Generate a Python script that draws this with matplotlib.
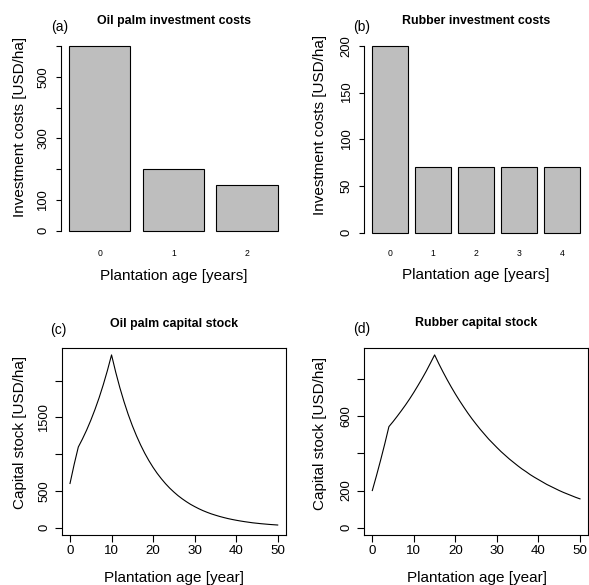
import matplotlib
matplotlib.use("Agg")
import matplotlib.pyplot as plt

plt.rcParams["font.family"] = ["Liberation Sans", "DejaVu Sans"]

# ---- investment costs by plantation age ----
oil_palm_age = [0, 1, 2]
oil_palm_cost = [600, 200, 150]
rubber_age = [0, 1, 2, 3, 4]
rubber_cost = [200, 70, 70, 70, 70]

# ---- capital stock over the plantation life ----
years = list(range(51))
oil_palm_stock = [600, 860, 1096, 1206, 1326, 1459, 1605, 1765, 1942, 2136,
                  2349, 2115, 1903, 1713, 1541, 1387, 1249, 1124, 1011, 910,
                  819, 737, 664, 597, 537, 484, 435, 392, 353, 317,
                  286, 257, 231, 208, 187, 169, 152, 137, 123, 111,
                  100, 90, 81, 73, 65, 59, 53, 48, 43, 39, 35]
rubber_stock = [200, 280, 364, 452, 545, 572, 601, 631, 662, 695,
                730, 767, 805, 845, 888, 932, 885, 841, 799, 759,
                721, 685, 651, 618, 587, 558, 530, 504, 478, 455,
                432, 410, 390, 370, 352, 334, 317, 302, 286, 272,
                259, 246, 233, 222, 211, 200, 190, 181, 172, 163, 155]

# ---- axis ticks ----
oil_cost_yticks = [0, 100, 200, 300, 400, 500, 600]
oil_cost_ylabels = ["0", "100", "", "300", "", "500", ""]
rub_cost_yticks = [0, 50, 100, 150, 200]
rub_cost_ylabels = ["0", "50", "100", "150", "200"]
oil_stock_yticks = [0, 500, 1000, 1500, 2000]
oil_stock_ylabels = ["0", "500", "", "1500", ""]
rub_stock_yticks = [0, 200, 400, 600, 800]
rub_stock_ylabels = ["0", "200", "", "600", ""]
age_ticks = [0, 10, 20, 30, 40, 50]

W, H = 589, 585
fig = plt.figure(figsize=(W / 100, H / 100), dpi=100)

TICK_FS = 9.4
LAB_FS = 11
TITLE_FS = 8.9
TAG_FS = 10
LW = 0.8


def fig_xy(x, y):
    return x / W, 1 - y / H


def add_panel(l, t, r, b):
    ax = fig.add_axes([l / W, 1 - b / H, (r - l) / W, (b - t) / H])
    return ax


def label_panel(ax, title, tag, title_xy, tag_xy, xlabel, xlab_xy, ylabel, ylab_xy):
    fig.text(*fig_xy(*title_xy), title, ha="center", va="center",
             fontsize=TITLE_FS, fontweight="bold")
    fig.text(*fig_xy(*tag_xy), tag, ha="center", va="center", fontsize=TAG_FS)
    fig.text(*fig_xy(*xlab_xy), xlabel, ha="center", va="center", fontsize=LAB_FS)
    fig.text(*fig_xy(*ylab_xy), ylabel, ha="center", va="center",
             fontsize=LAB_FS, rotation=90)


def bar_panel(ax, ages, costs, yticks, ylabels, name_pad):
    n = len(costs)
    centers = [0.7 + 1.2 * i for i in range(n)]
    ax.bar(centers, costs, width=1.0, color="#BEBEBE", edgecolor="black",
           linewidth=LW)
    lo, hi = 0.2, 1.2 * n
    ax.set_xlim(lo - 0.04 * (hi - lo), hi + 0.04 * (hi - lo))
    top = max(costs)
    ax.set_ylim(-0.04 * top, 1.04 * top)
    ax.set_xticks(centers, [str(a) for a in ages])
    ax.tick_params(axis="x", length=0, pad=name_pad, labelsize=6.2)
    ax.set_yticks(yticks, ylabels)
    ax.tick_params(axis="y", length=3.6, width=LW, pad=4.6, labelsize=TICK_FS)
    for lbl in ax.get_yticklabels():
        lbl.set_rotation(90)
        lbl.set_va("center")
    for s in ("top", "right", "bottom"):
        ax.spines[s].set_visible(False)
    ax.spines["left"].set_bounds(yticks[0], yticks[-1])
    ax.spines["left"].set_linewidth(LW)


def stock_panel(ax, stock, yticks, ylabels):
    ax.plot(years, stock, color="black", linewidth=LW)
    span = years[-1] - years[0]
    ax.set_xlim(years[0] - 0.04 * span, years[-1] + 0.04 * span)
    top = max(stock)
    ax.set_ylim(-0.04 * top, 1.04 * top)
    ax.set_xticks(age_ticks, [str(v) for v in age_ticks])
    ax.set_yticks(yticks, ylabels)
    ax.tick_params(axis="x", length=5, width=LW, pad=2.5, labelsize=9.6)
    ax.tick_params(axis="y", length=5, width=LW, pad=3.4, labelsize=TICK_FS)
    for lbl in ax.get_yticklabels():
        lbl.set_rotation(90)
        lbl.set_va("center")
    for s in ax.spines.values():
        s.set_linewidth(LW)


# (a) oil palm investment costs
ax_a = add_panel(60.6, 38.6, 286, 238.1)
bar_panel(ax_a, oil_palm_age, oil_palm_cost, oil_cost_yticks, oil_cost_ylabels, 7.6)
label_panel(ax_a, "Oil palm investment costs", "(a)", (173.7, 20.7), (59.5, 27.5),
            "Plantation age [years]", (173.7, 276),
            "Investment costs [USD/ha]", (20, 126.7))

# (b) rubber investment costs
ax_b = add_panel(364, 38.5, 588.3, 240.2)
bar_panel(ax_b, rubber_age, rubber_cost, rub_cost_yticks, rub_cost_ylabels, 6.2)
label_panel(ax_b, "Rubber investment costs", "(b)", (476.3, 20.7), (362, 27.5),
            "Plantation age [years]", (476, 275),
            "Investment costs [USD/ha]", (320, 125))

# (c) oil palm capital stock
ax_c = add_panel(61.7, 348, 286, 534.5)
stock_panel(ax_c, oil_palm_stock, oil_stock_yticks, oil_stock_ylabels)
label_panel(ax_c, "Oil palm capital stock", "(c)", (174, 324), (58.7, 330),
            "Plantation age [year]", (174, 578),
            "Capital stock [USD/ha]", (20, 432))

# (d) rubber capital stock
ax_d = add_panel(364, 348, 588.3, 534.5)
stock_panel(ax_d, rubber_stock, rub_stock_yticks, rub_stock_ylabels)
label_panel(ax_d, "Rubber capital stock", "(d)", (476, 323.3), (362, 329),
            "Plantation age [year]", (476.7, 578),
            "Capital stock [USD/ha]", (320, 433.5))

fig.savefig("out.png", dpi=100)
